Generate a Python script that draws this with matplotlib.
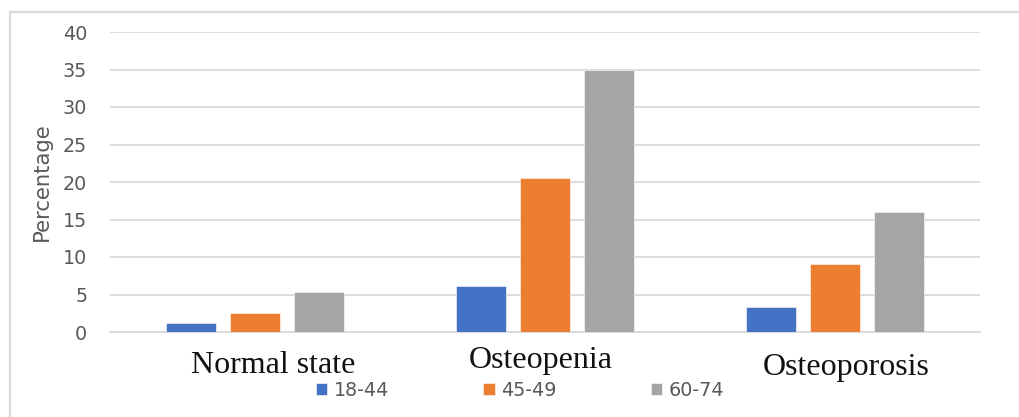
import numpy as np
import matplotlib
matplotlib.use("Agg")
import matplotlib.pyplot as plt
from matplotlib.patches import Rectangle

# Porcentaje por estado óseo y grupo de edad
estados = ["Normal state", "Osteopenia", "Osteoporosis"]
grupos = ["18-44", "45-49", "60-74"]
pct_18_44 = [1.2, 6.1, 3.3]
pct_45_49 = [2.5, 20.6, 9.1]
pct_60_74 = [5.4, 35.0, 16.0]
yticks = [0, 5, 10, 15, 20, 25, 30, 35, 40]

colores = ["#4472C4", "#ED7D31", "#A5A5A5"]
gris_texto = "#595959"
gris_rejilla = "#D9D9D9"

fig = plt.figure(figsize=(10.19, 4.17), dpi=100)
ax = fig.add_axes([110 / 1019, 85 / 417, 870 / 1019, 300 / 417])

x = np.arange(len(estados))
ancho = 0.173
paso = 0.221
series = [pct_18_44, pct_45_49, pct_60_74]
for i, (valores, grupo, color) in enumerate(zip(series, grupos, colores)):
    ax.bar(x + (i - 1) * paso, valores, width=ancho, color=color,
           label=grupo, zorder=3, edgecolor="#ffffff", linewidth=0.4)

ax.set_xlim(-0.5, len(estados) - 0.5)
ax.set_ylim(0, 40)
ax.set_yticks(yticks)
ax.tick_params(axis="y", length=0, pad=16.5, labelsize=13.8, labelcolor=gris_texto)
ax.set_xticks([])
ax.grid(axis="y", color=gris_rejilla, linewidth=1.3, zorder=0)
for lado in ["top", "right", "left"]:
    ax.spines[lado].set_visible(False)
ax.spines["bottom"].set_color(gris_rejilla)
ax.spines["bottom"].set_linewidth(1.3)

# Etiquetas de categoría en letra con serifa, colocadas a mano
desplaz_x = [0.063, -0.016, 0.04]
base_y = [-0.137, -0.12, -0.143]
for xi, estado, dx, by in zip(x, estados, desplaz_x, base_y):
    ax.text(xi + dx, by, estado, transform=ax.get_xaxis_transform(),
            ha="center", va="baseline", fontsize=23,
            family="Liberation Serif", color="#111111", clip_on=False)

fig.text(42 / 1019, 1 - 182 / 417, "Percentage", rotation=90,
         ha="center", va="center", fontsize=15.2, color=gris_texto)

fig.legend(loc="center", bbox_to_anchor=(520 / 1019, 27 / 417), ncol=3,
           frameon=False, handlelength=0.6, handleheight=0.6,
           handletextpad=0.35, columnspacing=4.9, fontsize=13.8,
           labelcolor=gris_texto)

# Marco exterior
fig.patches.append(Rectangle((10 / 1019, -0.1), 1.2, 0.1 + (417 - 12) / 417,
                             transform=fig.transFigure, fill=False,
                             edgecolor=gris_rejilla, linewidth=1.6))

fig.savefig("out.png", dpi=100)
